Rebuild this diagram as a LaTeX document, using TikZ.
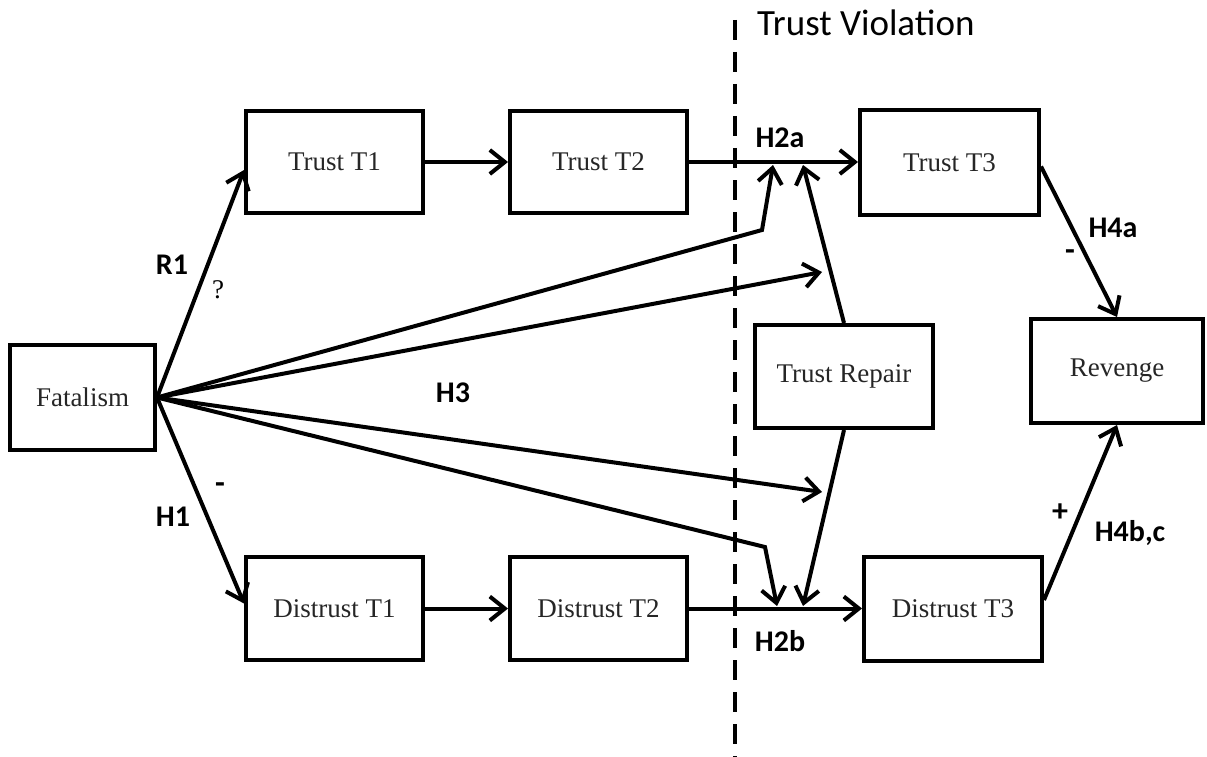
\documentclass[tikz,border=0pt]{standalone}
\usepackage{fontspec}
\setmainfont{Liberation Serif}
\newfontfamily\labfont{Carlito}
\usetikzlibrary{arrows.meta,calc}
\begin{document}
\begin{tikzpicture}[x=1pt,y=-1pt,
  box/.style={draw, line width=4pt, inner sep=0pt,
    font=\fontsize{27}{32}\selectfont, text=black!85},
  conn/.style={line width=4pt, -{Straight Barb[length=15pt,width=24pt]}},
  hyp/.style={font=\labfont\bfseries\fontsize{30}{36}\selectfont, inner sep=0pt},
  sign/.style={font=\labfont\bfseries\fontsize{32}{36}\selectfont, inner sep=0pt},
  violation/.style={line width=4.5pt, dash pattern=on 20pt off 12pt}
]
\useasboundingbox (0,0) rectangle (1207,757);

% boxes
\node[box, minimum width=145pt, minimum height=105pt] (fat) at (82.5,397.5) {Fatalism};
\node[box, minimum width=177pt, minimum height=102pt] (t1) at (334.5,162) {Trust T1};
\node[box, minimum width=177pt, minimum height=102pt] (t2) at (598.5,162) {Trust T2};
\node[box, minimum width=179pt, minimum height=105pt] (t3) at (949.5,162.5) {Trust T3};
\node[box, minimum width=177pt, minimum height=103pt] (d1) at (334.5,608.5) {Distrust T1};
\node[box, minimum width=177pt, minimum height=103pt] (d2) at (598.5,608.5) {Distrust T2};
\node[box, minimum width=178pt, minimum height=104pt] (d3) at (953,609) {Distrust T3};
\node[box, minimum width=178pt, minimum height=103pt] (rep) at (844,376.5) {Trust Repair};
\node[box, minimum width=172pt, minimum height=104pt] (rev) at (1117,371) {Revenge};

% trust violation boundary
\coordinate (vtop) at (735,20);
\coordinate (vbot) at (735,757);
\draw[violation] (vtop) -- (vbot);
\node[font=\labfont\fontsize{37}{44}\selectfont, inner sep=0pt, anchor=west] (tv) at (757,23) {Trust Violation};

% junction points on the T2->T3 and D2->D3 paths
\coordinate (h2aL) at (773,165);
\coordinate (h2aR) at (803,165);
\coordinate (h2bL) at (777,606);
\coordinate (h2bR) at (803,606);
\coordinate (bendA) at (762,230);
\coordinate (bendB) at (765,547);
\coordinate (repUp) at (822,272);
\coordinate (repDown) at (822,492);

% main chains
\draw[conn] (t1.east) -- (t2.west);
\draw[conn] (t2.east) -- (t2.east -| t3.west);
\draw[conn] (d1.east) -- (d2.west);
\draw[conn] (d2.east) -- (d2.east -| d3.west);

% fatalism paths
\draw[conn] (fat.east) -- ($(t1.west)+(0,8)$);
\draw[conn] (fat.east) -- ($(d1.west)+(0,-5)$);
\draw[conn] (fat.east) -- (bendA) -- (h2aL);
\draw[conn] (fat.east) -- (repUp);
\draw[conn] (fat.east) -- (repDown);
\draw[conn] (fat.east) -- (bendB) -- (h2bL);

% trust repair paths
\draw[conn] (rep.north) -- (h2aR);
\draw[conn] (rep.south) -- (h2bR);

% revenge paths
\draw[conn] ($(t3.east)+(0,4)$) -- (rev.north);
\draw[conn] ($(d3.east)+(0,-9)$) -- (rev.south);

% labels
\node[hyp] (lR1) at (172,265) {R1};
\node[font=\fontsize{27}{32}\selectfont, inner sep=0pt] (lq) at (218,290) {?};
\node[sign] (lm1) at (220,488) {-};
\node[hyp] (lH1) at (173,517) {H1};
\node[hyp] (lH3) at (453,393) {H3};
\node[hyp] (lH2a) at (780,138) {H2a};
\node[hyp] (lH2b) at (780,641) {H2b};
\node[hyp] (lH4a) at (1113,228) {H4a};
\node[sign] (lm2) at (1070,255) {-};
\node[sign] (lp) at (1060,513) {+};
\node[hyp] (lH4b) at (1130,533) {H4b,c};
\end{tikzpicture}
\end{document}
